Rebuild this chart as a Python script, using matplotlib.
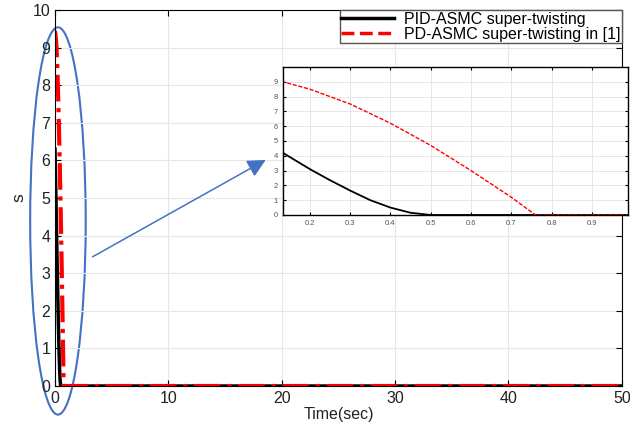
import numpy as np
import matplotlib.pyplot as plt
from matplotlib.patches import Ellipse

plt.rcParams['font.family'] = ['Liberation Sans', 'DejaVu Sans']

# sliding surface s(t)
t_pid = [0, 0.05, 0.1, 0.133, 0.2, 0.25, 0.3, 0.35, 0.4, 0.45, 0.5, 50]
s_pid = [6.3, 5.5, 4.75, 4.2, 3.1, 2.35, 1.65, 1.0, 0.5, 0.15, 0, 0]
t_pd = [0, 0.05, 0.1, 0.133, 0.2, 0.3, 0.4, 0.5, 0.6, 0.7, 0.76, 50]
s_pd = [9.45, 9.3, 9.15, 9.0, 8.5, 7.5, 6.2, 4.7, 3.0, 1.2, 0, 0]
lab_pid = 'PID-ASMC super-twisting'
lab_pd = 'PD-ASMC super-twisting in [1]'

fig = plt.figure(figsize=(6.3, 4.28), dpi=100)
ax = fig.add_axes([0.0873, 0.0981, 0.8997, 0.8785])
ax.plot(t_pid, s_pid, color='k', lw=2.5, label=lab_pid)
ax.plot(t_pd, s_pd, color='red', lw=3, ls='-.', label=lab_pd)
ax.set_xlim(0, 50)
ax.set_ylim(0, 10)
ax.set_xticks(np.arange(0, 51, 10))
ax.set_yticks(np.arange(0, 11, 1))
ax.grid(True, color='#e6e6e6', lw=0.8)
ax.tick_params(direction='in', top=True, right=True, labelsize=11.5, length=4,
               labelcolor='#222222')
ax.set_xlabel('Time(sec)', fontsize=11.5, labelpad=1, color='#222222')
ax.set_ylabel('s', fontsize=12.5, color='#222222')

# legend with the dashed red style in its entry
h1, = ax.plot([], [], color='k', lw=2.5)
h2, = ax.plot([], [], color='red', lw=2.5, ls='--')
leg = ax.legend([h1, h2], [lab_pid, lab_pd], loc='upper right', fontsize=11.5,
                fancybox=False, edgecolor='#555555', framealpha=1,
                borderaxespad=0, handlelength=3.3, handletextpad=0.6,
                borderpad=0.1, labelspacing=0.0)
leg.get_frame().set_linewidth(1)

# highlight ellipse and arrow
ell = Ellipse((0.26, 4.39), 4.9, 10.3, fill=False, edgecolor='#4472C4',
              lw=1.5, clip_on=False)
ax.add_patch(ell)
ax.annotate('', xy=(18.8, 6.05), xytext=(3.1, 3.4),
            arrowprops=dict(arrowstyle='-|>,head_length=1.1,head_width=0.55',
                            color='#4472C4', lw=1.1))

# zoomed inset
axi = fig.add_axes([0.449, 0.4977, 0.548, 0.3458])
axi.plot(t_pid, s_pid, color='k', lw=1.3)
axi.plot(t_pd, s_pd, color='red', lw=1, ls='--', dashes=(3, 1.2))
axi.set_xlim(0.133, 0.99)
axi.set_ylim(0, 10)
axi.set_xticks(np.arange(0.2, 0.95, 0.1))
axi.set_xticklabels(['0.2', '0.3', '0.4', '0.5', '0.6', '0.7', '0.8', '0.9'])
axi.set_yticks(np.arange(0, 10, 1))
axi.grid(True, color='#e6e6e6', lw=0.7)
axi.tick_params(direction='in', top=True, right=True, labelsize=5.5,
                labelcolor='#555555', length=2)
for sp in axi.spines.values():
    sp.set_linewidth(1)

fig.savefig('out.png', dpi=100)
